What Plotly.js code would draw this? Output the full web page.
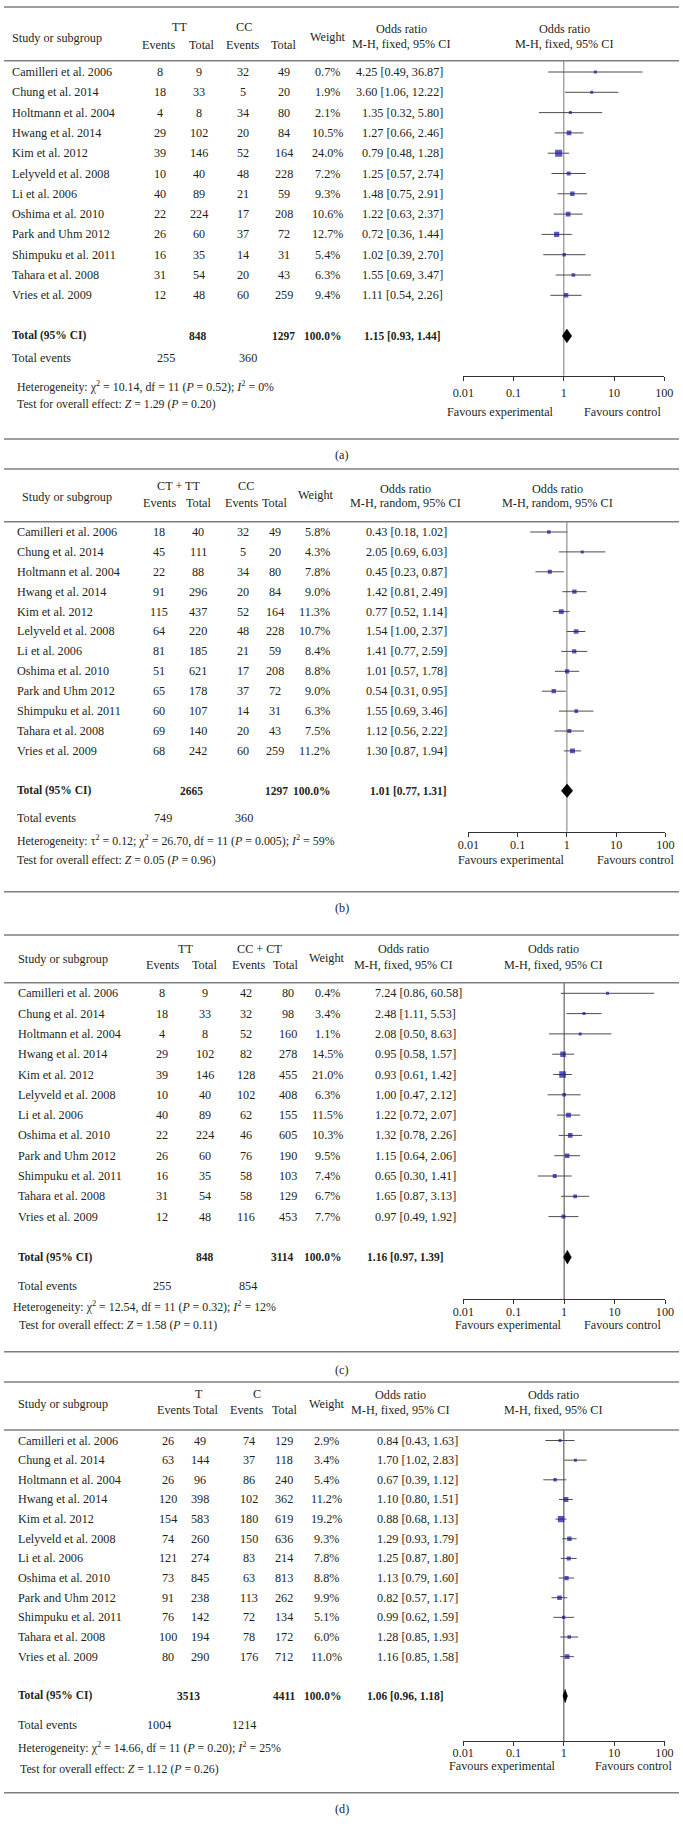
<!DOCTYPE html>
<html><head><meta charset="utf-8">
<script src="https://cdn.plot.ly/plotly-3.0.1.min.js"></script>
<style>html,body{margin:0;padding:0;background:#fff}</style>
</head><body>
<div id="chart" style="width:683px;height:1830px"></div>
<script>
// ---------------- DATA ----------------
const studies = ["Camilleri et al. 2006","Chung et al. 2014","Holtmann et al. 2004","Hwang et al. 2014","Kim et al. 2012","Lelyveld et al. 2008","Li et al. 2006","Oshima et al. 2010","Park and Uhm 2012","Shimpuku et al. 2011","Tahara et al. 2008","Vries et al. 2009"];
const tickVals = [0.01, 0.1, 1, 10, 100];
const tickLabels = ["0.01", "0.1", "1", "10", "100"];
const captions = ["(a)", "(b)", "(c)", "(d)"];

// (a) TT vs CC
const aGroups = ["TT", "CC"];
const aMethod = "M-H, fixed, 95% CI";
const aEv1 = [8,18,4,29,39,10,40,22,26,16,31,12];
const aTot1 = [9,33,8,102,146,40,89,224,60,35,54,48];
const aEv2 = [32,5,34,20,52,48,21,17,37,14,20,60];
const aTot2 = [49,20,80,84,164,228,59,208,72,31,43,259];
const aWeight = [0.7,1.9,2.1,10.5,24.0,7.2,9.3,10.6,12.7,5.4,6.3,9.4];
const aOR = [4.25,3.60,1.35,1.27,0.79,1.25,1.48,1.22,0.72,1.02,1.55,1.11];
const aLow = [0.49,1.06,0.32,0.66,0.48,0.57,0.75,0.63,0.36,0.39,0.69,0.54];
const aHigh = [36.87,12.22,5.80,2.46,1.28,2.74,2.91,2.37,1.44,2.70,3.47,2.26];
const aTotals = [848, 1297];
const aPooled = [1.15, 0.93, 1.44];
const aTotalEvents = [255, 360];
const aHet = "Heterogeneity: χ<sup>2</sup> = 10.14, df = 11 (<i>P</i> = 0.52); <i>I</i><sup>2</sup> = 0%";
const aTest = "Test for overall effect: <i>Z</i> = 1.29 (<i>P</i> = 0.20)";

// (b) CT+TT vs CC
const bGroups = ["CT + TT", "CC"];
const bMethod = "M-H, random, 95% CI";
const bEv1 = [18,45,22,91,115,64,81,51,65,60,69,68];
const bTot1 = [40,111,88,296,437,220,185,621,178,107,140,242];
const bEv2 = [32,5,34,20,52,48,21,17,37,14,20,60];
const bTot2 = [49,20,80,84,164,228,59,208,72,31,43,259];
const bWeight = [5.8,4.3,7.8,9.0,11.3,10.7,8.4,8.8,9.0,6.3,7.5,11.2];
const bOR = [0.43,2.05,0.45,1.42,0.77,1.54,1.41,1.01,0.54,1.55,1.12,1.30];
const bLow = [0.18,0.69,0.23,0.81,0.52,1.00,0.77,0.57,0.31,0.69,0.56,0.87];
const bHigh = [1.02,6.03,0.87,2.49,1.14,2.37,2.59,1.78,0.95,3.46,2.22,1.94];
const bTotals = [2665, 1297];
const bPooled = [1.01, 0.77, 1.31];
const bTotalEvents = [749, 360];
const bHet = "Heterogeneity: τ<sup>2</sup> = 0.12; χ<sup>2</sup> = 26.70, df = 11 (<i>P</i> = 0.005); <i>I</i><sup>2</sup> = 59%";
const bTest = "Test for overall effect: <i>Z</i> = 0.05 (<i>P</i> = 0.96)";

// (c) TT vs CC+CT
const cGroups = ["TT", "CC + CT"];
const cMethod = "M-H, fixed, 95% CI";
const cEv1 = [8,18,4,29,39,10,40,22,26,16,31,12];
const cTot1 = [9,33,8,102,146,40,89,224,60,35,54,48];
const cEv2 = [42,32,52,82,128,102,62,46,76,58,58,116];
const cTot2 = [80,98,160,278,455,408,155,605,190,103,129,453];
const cWeight = [0.4,3.4,1.1,14.5,21.0,6.3,11.5,10.3,9.5,7.4,6.7,7.7];
const cOR = [7.24,2.48,2.08,0.95,0.93,1.00,1.22,1.32,1.15,0.65,1.65,0.97];
const cLow = [0.86,1.11,0.50,0.58,0.61,0.47,0.72,0.78,0.64,0.30,0.87,0.49];
const cHigh = [60.58,5.53,8.63,1.57,1.42,2.12,2.07,2.26,2.06,1.41,3.13,1.92];
const cTotals = [848, 3114];
const cPooled = [1.16, 0.97, 1.39];
const cTotalEvents = [255, 854];
const cHet = "Heterogeneity: χ<sup>2</sup> = 12.54, df = 11 (<i>P</i> = 0.32); <i>I</i><sup>2</sup> = 12%";
const cTest = "Test for overall effect: <i>Z</i> = 1.58 (<i>P</i> = 0.11)";

// (d) T vs C
const dGroups = ["T", "C"];
const dMethod = "M-H, fixed, 95% CI";
const dEv1 = [26,63,26,120,154,74,121,73,91,76,100,80];
const dTot1 = [49,144,96,398,583,260,274,845,238,142,194,290];
const dEv2 = [74,37,86,102,180,150,83,63,113,72,78,176];
const dTot2 = [129,118,240,362,619,636,214,813,262,134,172,712];
const dWeight = [2.9,3.4,5.4,11.2,19.2,9.3,7.8,8.8,9.9,5.1,6.0,11.0];
const dOR = [0.84,1.70,0.67,1.10,0.88,1.29,1.25,1.13,0.82,0.99,1.28,1.16];
const dLow = [0.43,1.02,0.39,0.80,0.68,0.93,0.87,0.79,0.57,0.62,0.85,0.85];
const dHigh = [1.63,2.83,1.12,1.51,1.13,1.79,1.80,1.60,1.17,1.59,1.93,1.58];
const dTotals = [3513, 4411];
const dPooled = [1.06, 0.96, 1.18];
const dTotalEvents = [1004, 1214];
const dHet = "Heterogeneity: χ<sup>2</sup> = 14.66, df = 11 (<i>P</i> = 0.20); <i>I</i><sup>2</sup> = 25%";
const dTest = "Test for overall effect: <i>Z</i> = 1.12 (<i>P</i> = 0.26)";

// ---------------- LAYOUT (pixel positions) ----------------
const W = 683, H = 1830;
const FONT = '"Liberation Serif", "Times New Roman", serif';
const FS = 12.2;     // table text
const FST = 11.5;    // bold total row
const FSH = 11.9;    // heterogeneity line
const FSZ = 11.8;    // overall-effect line
const TXT = '#231f20';

const panels = [
  {d:{groups:aGroups, method:aMethod, ev1:aEv1, tot1:aTot1, ev2:aEv2, tot2:aTot2, w:aWeight, or:aOR, lo:aLow, hi:aHigh, totals:aTotals, pooled:aPooled, tev:aTotalEvents, het:aHet, test:aTest},
   p:{top:7, hdr:60.7, bottom:439, cap:455, yGroup:27, yStudy:38, ySub:45, yWeight:37, yOR1:29, yOR2:44,
      row0:72, step:20.3, totRow:13, yTev:357.7, axis:375.7, yFav:412.3, yHet:386.7, yTest:404.3, standoff:2,
      xLabel:10, xStudy:10, xE1:160, xN1:199, xE2:243, xN2:284, xW:327, wAnchor:'center', xCI:445.3, ciAnchor:'right',
      xG1:179.5, xG2:244, xHE1:158, xHN1:201, xHE2:242, xHN2:283, xHW:327.7, xHOR:401.7, xHF:564.7,
      xTN1:198.3, xTN2:283.2, xTW:322.4, twAnchor:'center', xTCI:443.5,
      xTE1:165.6, xTE2:248.4, xHet:15.3, xTest:15.3, xFav1:500, xFav2:622.5, ax0:463.3, ax1:664.3, vcol:'#7a7a7a'}},
  {d:{groups:bGroups, method:bMethod, ev1:bEv1, tot1:bTot1, ev2:bEv2, tot2:bTot2, w:bWeight, or:bOR, lo:bLow, hi:bHigh, totals:bTotals, pooled:bPooled, tev:bTotalEvents, het:bHet, test:bTest},
   p:{top:469, hdr:521.7, bottom:891.7, cap:908.3, yGroup:486, yStudy:496.7, ySub:503.3, yWeight:495, yOR1:489.3, yOR2:503.3,
      row0:532, step:19.9, totRow:13, yTev:817.7, axis:831.7, yFav:860, yHet:840, yTest:860, standoff:-2,
      xLabel:15.3, xStudy:19.6, xE1:159, xN1:198.3, xE2:243.1, xN2:274.5, xW:332, wAnchor:'right', xCI:448.8, ciAnchor:'right',
      xG1:178.6, xG2:246.2, xHE1:159, xHN1:198.3, xHE2:241, xHN2:274.5, xHW:316, xHOR:405.2, xHF:557.7,
      xTN1:191.7, xTN2:276, xTW:332, twAnchor:'right', xTCI:448.8,
      xTE1:163.4, xTE2:244, xHet:15.3, xTest:15.3, xFav1:511, xFav2:635.3, ax0:468.4, ax1:665.4, vcol:'#7a7a7a'}},
  {d:{groups:cGroups, method:cMethod, ev1:cEv1, tot1:cTot1, ev2:cEv2, tot2:cTot2, w:cWeight, or:cOR, lo:cLow, hi:cHigh, totals:cTotals, pooled:cPooled, tev:cTotalEvents, het:cHet, test:cTest},
   p:{top:935, hdr:982.7, bottom:1351.7, cap:1370, yGroup:949.3, yStudy:959.3, ySub:965, yWeight:958.3, yOR1:949.3, yOR2:965,
      row0:993.3, step:20.3, totRow:13, yTev:1286, axis:1299, yFav:1324.5, yHet:1306, yTest:1325, standoff:-3,
      xLabel:16.1, xStudy:16.1, xE1:162, xN1:204.8, xE2:246.2, xN2:287.6, xW:327.7, wAnchor:'center', xCI:372.5, ciAnchor:'left',
      xG1:185.2, xG2:259.3, xHE1:162.5, xHN1:204.8, xHE2:248.4, xHN2:285.4, xHW:326.8, xHOR:403, xHF:553.4,
      xTN1:204.8, xTN2:282.4, xTW:322.4, twAnchor:'center', xTCI:365.1,
      xTE1:162, xTE2:248.4, xHet:10.9, xTest:16.6, xFav1:508.3, xFav2:622, ax0:463.3, ax1:665, vcol:'#444'}},
  {d:{groups:dGroups, method:dMethod, ev1:dEv1, tot1:dTot1, ev2:dEv2, tot2:dTot2, w:dWeight, or:dOR, lo:dLow, hi:dHigh, totals:dTotals, pooled:dPooled, tev:dTotalEvents, het:dHet, test:dTest},
   p:{top:1382, hdr:1430, bottom:1792.7, cap:1809, yGroup:1393.5, yStudy:1403.5, ySub:1409.5, yWeight:1404, yOR1:1395, yOR2:1409.5,
      row0:1440.5, step:19.65, totRow:13, yTev:1725, axis:1741, yFav:1766, yHet:1747.7, yTest:1769.3, standoff:-4,
      xLabel:16.1, xStudy:16.1, xE1:167.8, xN1:199.6, xE2:249.2, xN2:284.1, xW:326, wAnchor:'center', xCI:374.7, ciAnchor:'left',
      xG1:199, xG2:257, xHE1:173, xHN1:205.7, xHE2:246.2, xHN2:284.5, xHW:326.8, xHOR:400.9, xHF:553.4,
      xTN1:188.2, xTN2:284.1, xTW:322.4, twAnchor:'center', xTCI:365.1,
      xTE1:159, xTE2:244, xHet:16.1, xTest:18.3, xFav1:502.8, xFav2:633, ax0:463.2, ax1:664.5, vcol:'#444'}}
];

// ---------------- BUILD ----------------
function T(text, x, y, xa, size) {
  return {xref:'paper', yref:'paper', x:x/W, y:1-y/H, xanchor:xa||'center', yanchor:'middle',
    text:String(text), showarrow:false, align:'left', font:{family:FONT, size:size||FS, color:TXT}};
}
function ciText(o, l, h) { return o.toFixed(2) + ' [' + l.toFixed(2) + ', ' + h.toFixed(2) + ']'; }
function rule(y) {
  return {type:'line', xref:'paper', yref:'paper', x0:4/W, x1:679/W, y0:1-y/H, y1:1-y/H, line:{color:'#7f7f7f', width:1.5}};
}

const traces = [], annotations = [], shapes = [];
const layout = {width:W, height:H, margin:{l:0,r:0,t:0,b:0}, paper_bgcolor:'#fff', plot_bgcolor:'rgba(0,0,0,0)', showlegend:false};

panels.forEach((P, k) => {
  const d = P.d, p = P.p;
  const sfx = k === 0 ? '' : String(k+1);
  const xa = 'x' + sfx, ya = 'y' + sfx;
  layout['xaxis' + sfx] = {type:'log', range:[-2, 2], domain:[p.ax0/W, p.ax1/W], anchor:ya,
    showline:true, linecolor:'#333', linewidth:1, ticks:'outside', ticklen:4, tickcolor:'#333', tickwidth:1,
    tickvals:tickVals, ticktext:tickLabels, ticklabelstandoff:p.standoff, showgrid:false, zeroline:false, fixedrange:true,
    tickfont:{family:FONT, size:FS, color:TXT}};
  layout['yaxis' + sfx] = {domain:[1 - p.axis/H, 1 - p.hdr/H],
    range:[(p.axis - p.row0)/p.step, (p.hdr - p.row0)/p.step],
    visible:false, showgrid:false, zeroline:false, fixedrange:true};

  shapes.push(rule(p.top), rule(p.hdr), rule(p.bottom));
  shapes.push({type:'line', xref:xa, yref:ya + ' domain', x0:1, x1:1, y0:0, y1:1, layer:'below', line:{color:p.vcol, width:1}});

  const lx = [], ly = [];
  studies.forEach((s, i) => { lx.push(d.lo[i], d.hi[i], null); ly.push(i, i, null); });
  traces.push({type:'scatter', mode:'lines', x:lx, y:ly, xaxis:xa, yaxis:ya, line:{color:'#4d4d4d', width:1}, hoverinfo:'skip'});
  traces.push({type:'scatter', mode:'markers', x:d.or, y:studies.map((s,i)=>i), xaxis:xa, yaxis:ya,
    marker:{symbol:'square', color:'#1414a0', size:d.w.map(w => Math.max(3, 1.45*Math.sqrt(w))), line:{width:0}}, hoverinfo:'skip'});
  const r = p.totRow, dh = 0.34;
  traces.push({type:'scatter', mode:'lines', x:[d.pooled[1], d.pooled[0], d.pooled[2], d.pooled[0], d.pooled[1]],
    y:[r, r - dh, r, r + dh, r], xaxis:xa, yaxis:ya, fill:'toself', fillcolor:'#000', line:{color:'#000', width:0.5}, hoverinfo:'skip'});

  annotations.push(T('Study or subgroup', p.xStudy, p.yStudy, 'left'));
  annotations.push(T(d.groups[0], p.xG1, p.yGroup));
  annotations.push(T(d.groups[1], p.xG2, p.yGroup));
  annotations.push(T('Events', p.xHE1, p.ySub));
  annotations.push(T('Total', p.xHN1, p.ySub));
  annotations.push(T('Events', p.xHE2, p.ySub));
  annotations.push(T('Total', p.xHN2, p.ySub));
  annotations.push(T('Weight', p.xHW, p.yWeight));
  annotations.push(T('Odds ratio', p.xHOR, p.yOR1));
  annotations.push(T(d.method, p.xHOR, p.yOR2));
  annotations.push(T('Odds ratio', p.xHF, p.yOR1));
  annotations.push(T(d.method, p.xHF, p.yOR2));

  studies.forEach((s, i) => {
    const y = p.row0 + i * p.step;
    annotations.push(T(s, p.xLabel, y, 'left'));
    annotations.push(T(d.ev1[i], p.xE1, y));
    annotations.push(T(d.tot1[i], p.xN1, y));
    annotations.push(T(d.ev2[i], p.xE2, y));
    annotations.push(T(d.tot2[i], p.xN2, y));
    annotations.push(T(d.w[i].toFixed(1) + '%', p.xW, y, p.wAnchor));
    annotations.push(T(ciText(d.or[i], d.lo[i], d.hi[i]), p.xCI, y, p.ciAnchor));
  });

  const yT = p.row0 + p.totRow * p.step;
  const B = s => '<b>' + s + '</b>';
  annotations.push(T(B('Total (95% CI)'), p.xLabel, yT, 'left', FST));
  annotations.push(T(B(d.totals[0]), p.xTN1, yT, 'center', FST));
  annotations.push(T(B(d.totals[1]), p.xTN2, yT, 'center', FST));
  annotations.push(T(B('100.0%'), p.xTW, yT, p.twAnchor, FST));
  annotations.push(T(B(ciText(d.pooled[0], d.pooled[1], d.pooled[2])), p.xTCI, yT, p.ciAnchor, FST));
  annotations.push(T('Total events', p.xLabel, p.yTev, 'left'));
  annotations.push(T(d.tev[0], p.xTE1, p.yTev));
  annotations.push(T(d.tev[1], p.xTE2, p.yTev));
  annotations.push(T(d.het, p.xHet, p.yHet, 'left', FSH));
  annotations.push(T(d.test, p.xTest, p.yTest, 'left', FSZ));
  annotations.push(T('Favours experimental', p.xFav1, p.yFav));
  annotations.push(T('Favours control', p.xFav2, p.yFav));
  annotations.push(T(captions[k], 341.5, p.cap));
});

layout.shapes = shapes;
layout.annotations = annotations;
Plotly.newPlot('chart', traces, layout, {displayModeBar:false, staticPlot:true});
</script>
</body></html>
